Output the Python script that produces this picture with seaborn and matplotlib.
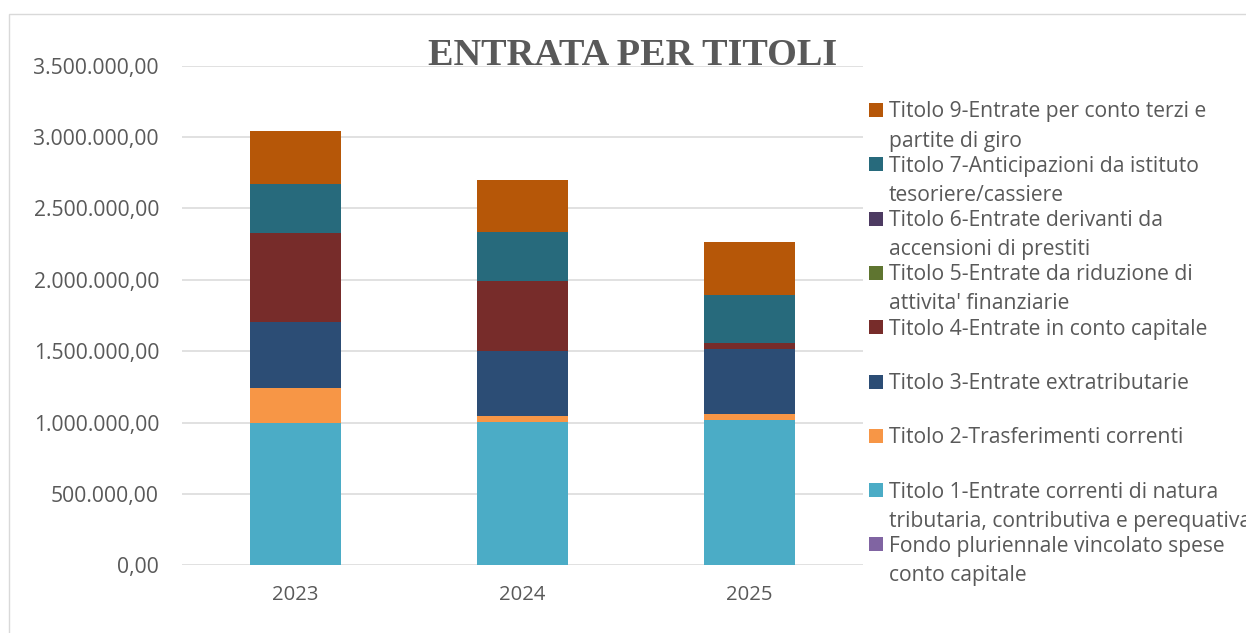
import numpy as np
import matplotlib
matplotlib.use("Agg")
import matplotlib.pyplot as plt
from matplotlib.patches import Rectangle
from matplotlib.ticker import FuncFormatter
import seaborn as sns

# values (euro)
years = ["2023", "2024", "2025"]
fondo_fpv = [0, 0, 0]
titolo_1 = [996000, 1003000, 1015000]
titolo_2 = [243000, 42000, 42000]
titolo_3 = [464000, 455000, 455000]
titolo_4 = [625000, 495000, 46000]
titolo_5 = [0, 0, 0]
titolo_6 = [0, 0, 0]
titolo_7 = [346000, 343000, 339000]
titolo_9 = [366000, 364000, 366000]

# stacking order, bottom to top
series_names = [
    "Fondo pluriennale vincolato spese\nconto capitale",
    "Titolo 1-Entrate correnti di natura\ntributaria, contributiva e perequativa",
    "Titolo 2-Trasferimenti correnti",
    "Titolo 3-Entrate extratributarie",
    "Titolo 4-Entrate in conto capitale",
    "Titolo 5-Entrate da riduzione di\nattivita' finanziarie",
    "Titolo 6-Entrate derivanti da\naccensioni di prestiti",
    "Titolo 7-Anticipazioni da istituto\ntesoriere/cassiere",
    "Titolo 9-Entrate per conto terzi e\npartite di giro",
]
series_values = [fondo_fpv, titolo_1, titolo_2, titolo_3, titolo_4,
                 titolo_5, titolo_6, titolo_7, titolo_9]
series_colors = ["#8064A2", "#4BACC6", "#F79646", "#2C4D75", "#772C2A",
                 "#5F7530", "#4D3B62", "#276A7C", "#B65708"]

TEXT = "#595959"
GRID = "#D9D9D9"


def euro_fmt(v, pos):
    s = f"{v:,.2f}"
    return s.replace(",", "X").replace(".", ",").replace("X", ".")


def main():
    sns.set_style("white")
    plt.rcParams["font.family"] = ["Open Sans", "DejaVu Sans"]

    fig = plt.figure(figsize=(12.46, 6.33), dpi=100)
    ax = fig.add_axes([0.1461, 0.1070, 0.5463, 0.7892])

    # stacked bars: draw cumulative totals from the top series down
    cum = np.cumsum(np.array(series_values, dtype=float), axis=0)
    for i in range(len(series_values) - 1, -1, -1):
        sns.barplot(x=years, y=cum[i], color=series_colors[i], width=0.4,
                    saturation=1, linewidth=0, ax=ax, zorder=3)

    ax.set_ylim(0, 3500000)
    ax.set_yticks(np.arange(0, 3500001, 500000))
    ax.yaxis.set_major_formatter(FuncFormatter(euro_fmt))
    ax.grid(axis="y", color=GRID, linewidth=1.1, zorder=0)
    ax.grid(axis="x", visible=False)
    for sp in ax.spines.values():
        sp.set_visible(False)
    ax.tick_params(axis="y", length=0, pad=16.5, labelsize=15.2, labelcolor=TEXT)
    ax.tick_params(axis="x", length=0, pad=14, labelsize=14.6, labelcolor=TEXT)
    ax.set_xlabel("")
    ax.set_ylabel("")

    fig.text(0.508, 0.8973, "ENTRATA PER TITOLI", ha="center", va="baseline",
             fontsize=27.5, fontweight="bold", color=TEXT,
             family=["Liberation Serif", "DejaVu Serif"])

    # legend, Excel-like (reverse order, marker on first line)
    W, H = 1246, 633
    y0 = 110.0
    step = 54.3
    line_h = 29.0
    for k, i in enumerate(range(len(series_names) - 1, -1, -1)):
        yc = y0 + k * step
        fig.add_artist(Rectangle((869 / W, 1 - (yc + 7) / H), 14 / W, 14 / H,
                                 transform=fig.transFigure,
                                 facecolor=series_colors[i], edgecolor="none"))
        for j, line in enumerate(series_names[i].split("\n")):
            yb = yc + j * line_h + 7.5
            fig.text(889 / W, 1 - yb / H, line, ha="left", va="baseline",
                     fontsize=15.2, color=TEXT)

    # chart area border
    fig.add_artist(Rectangle((9 / W, -0.1), 1.2, 1.1 - 14 / H,
                             transform=fig.transFigure, facecolor="none",
                             edgecolor=GRID, linewidth=1.0, clip_on=False))

    fig.savefig("out.png", dpi=100)


if __name__ == "__main__":
    main()
